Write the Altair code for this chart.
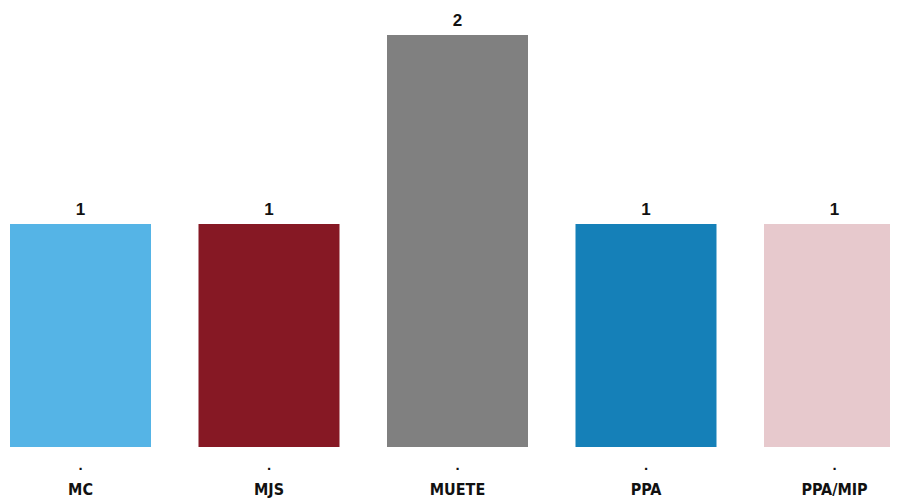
import altair as alt
import pandas as pd

categories = ["MC", "MJS", "MUETE", "PPA", "PPA/MIP"]
values = [1, 1, 2, 1, 1]
colors = ["#55B4E6", "#861824", "#808080", "#1580B8", "#E7C9CD"]

df = pd.DataFrame({"cat": categories, "value": values, "dot": ["."] * len(categories)})

x = alt.X("cat:N", sort=categories, axis=None,
          scale=alt.Scale(range=[2, 897], paddingInner=0.252, paddingOuter=0, round=False))
yscale = alt.Scale(domain=[-0.18, 2], range=[439, 27], nice=False, zero=False)

base = alt.Chart(df)

bars = base.mark_bar().encode(
    x=x,
    y=alt.Y("value:Q", scale=yscale, axis=None),
    y2=alt.datum(-0.18),
    color=alt.Color("cat:N", scale=alt.Scale(domain=categories, range=colors), legend=None),
)

vals = base.mark_text(baseline="alphabetic", dy=-9, font="Liberation Sans", fontWeight="bold",
                      fontSize=17, color="#111111").encode(
    x=x,
    y=alt.Y("value:Q", scale=yscale, axis=None),
    text="value:Q",
)

dots = base.mark_text(baseline="alphabetic", font="Liberation Sans", fontWeight="bold",
                      fontSize=15, color="#111111").encode(
    x=x,
    y=alt.value(462),
    text="dot:N",
)

names = base.mark_text(baseline="alphabetic",
                       font="Liberation Sans Narrow, DejaVu Sans Condensed, Roboto Condensed, Liberation Sans",
                       fontWeight="bold", fontSize=16, color="#111111").encode(
    x=x,
    y=alt.value(487),
    text="cat:N",
)

chart = alt.layer(bars, vals, dots, names).properties(
    width=882, height=492, padding=0,
    autosize=alt.AutoSizeParams(type="none"),
).configure_view(stroke=None)

chart.save("out.html", embed_options={"renderer": "svg", "actions": False})
